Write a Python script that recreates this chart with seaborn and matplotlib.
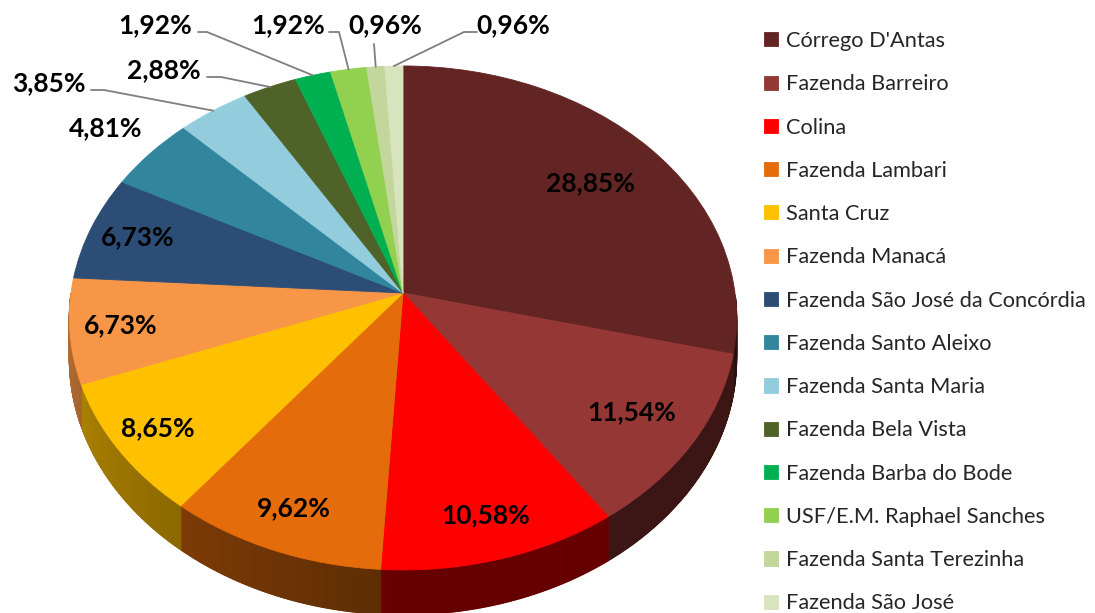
import numpy as np
import matplotlib
matplotlib.use("Agg")
import matplotlib.pyplot as plt
import matplotlib.transforms as mtransforms
from matplotlib.collections import PolyCollection
from matplotlib.colors import to_rgb
import seaborn as sns

locais = [
    "Córrego D'Antas",
    "Fazenda Barreiro",
    "Colina",
    "Fazenda Lambari",
    "Santa Cruz",
    "Fazenda Manacá",
    "Fazenda São José da Concórdia",
    "Fazenda Santo Aleixo",
    "Fazenda Santa Maria",
    "Fazenda Bela Vista",
    "Fazenda Barba do Bode",
    "USF/E.M. Raphael Sanches",
    "Fazenda Santa Terezinha",
    "Fazenda São José",
]
percentuais = [28.85, 11.54, 10.58, 9.62, 8.65, 6.73, 6.73, 4.81, 3.85, 2.88, 1.92, 1.92, 0.96, 0.96]
cores = [
    "#632523", "#953735", "#FF0000", "#E46C0A", "#FFC000", "#F79646", "#2C4D75",
    "#31859C", "#93CDDD", "#4F6228", "#00B050", "#92D050", "#C3D69B", "#D7E4BD",
]

# geometry of the tilted pie, in pixels of the 1095x613 canvas
CX, CY = 403, 293
RX, RY = 332, 249.5
PERSP = 0.099
DEPTH = 40.5

# label placement: radius for labels on/near the slice, or text + leader line
raio_rotulo = [0.75, 0.8, 0.85, 0.85, 0.87, 0.85, 0.85, 1.19]
rotulos_fora = {
    8: ((49, 83), [(91, 90), (104, 90)]),
    9: ((164, 70), [(207, 77), (221, 77)]),
    10: ((155, 25), [(198, 32), (207, 32)]),
    11: ((288, 25), [(329, 32), (339, 32)]),
    12: ((385, 25), [(374, 44)]),
    13: ((513, 25), [(477, 32), (464, 32)]),
}


def project(x, z, h=0.0):
    w = 1.0 / (1.0 + PERSP * np.asarray(z))
    return CX + RX * np.asarray(x) * w, CY - RY * np.asarray(z) * w + h * w


class Inclinacao(mtransforms.Transform):
    """Maps the flat unit pie onto the tilted disc."""
    input_dims = 2
    output_dims = 2
    is_separable = False
    has_inverse = False

    def transform_non_affine(self, values):
        values = np.asarray(values, dtype=float)
        x, y = project(values[:, 0], values[:, 1])
        return np.column_stack([x, y])


sns.set_theme(style="white")
plt.rcParams["font.family"] = ["Lato", "DejaVu Sans"]

fig = plt.figure(figsize=(10.95, 6.13), dpi=100)
ax = fig.add_axes([0, 0, 1, 1])

wedges, _ = ax.pie(
    percentuais,
    colors=cores,
    startangle=90,
    counterclock=False,
    wedgeprops=dict(linewidth=0.6, zorder=3),
)
ax.set_aspect("auto")
ax.set_xlim(0, 1095)
ax.set_ylim(613, 0)
ax.axis("off")

tilt = Inclinacao() + ax.transData
for w in wedges:
    w.set_transform(tilt)
    w.set_edgecolor(w.get_facecolor())

# side wall of the front half, darker towards the right
polys, faces = [], []
for w, cor in zip(wedges, cores):
    t = np.radians(np.linspace(w.theta1, w.theta2, 150))
    t = t[np.sin(t) < 0.0]
    for a, b in zip(t[:-1], t[1:]):
        x0, y0 = project(np.cos(a), np.sin(a))
        x1, y1 = project(np.cos(b), np.sin(b))
        x2, y2 = project(np.cos(b), np.sin(b), DEPTH)
        x3, y3 = project(np.cos(a), np.sin(a), DEPTH)
        polys.append([(x0, y0), (x1, y1), (x2, y2), (x3, y3)])
        deg = np.degrees((a + b) / 2) % 360
        f = 0.4 + 0.35 * np.clip((270 - deg) / 90, 0, 1)
        faces.append(np.array(to_rgb(cor)) * f)
ax.add_collection(PolyCollection(polys, facecolors=faces, edgecolors=faces,
                                 linewidths=0.8, zorder=1))

# percentage labels
for i, (w, v) in enumerate(zip(wedges, percentuais)):
    texto = f"{v:.2f}%".replace(".", ",")
    mid = np.radians((w.theta1 + w.theta2) / 2)
    if i in rotulos_fora:
        (tx, ty), pontos = rotulos_fora[i]
        ex, ey = project(np.cos(mid), np.sin(mid))
        xs = [p[0] for p in pontos] + [ex]
        ys = [p[1] for p in pontos] + [ey]
        ax.plot(xs, ys, color="#7F7F7F", lw=1.3, zorder=4)
    else:
        r = raio_rotulo[i]
        tx, ty = project(r * np.cos(mid), r * np.sin(mid))
    ax.text(tx, ty, texto, ha="center", va="center", fontsize=19,
            fontweight="bold", color="black", zorder=5)

ax.legend(
    wedges, locais,
    loc="upper left",
    bbox_to_anchor=(764 / 1095, 1 - 31 / 613),
    frameon=False,
    fontsize=15.7,
    handlelength=0.62,
    handleheight=0.62,
    handletextpad=0.4,
    labelspacing=1.067,
    borderpad=0,
    borderaxespad=0,
)

fig.savefig("out.png", dpi=100)
